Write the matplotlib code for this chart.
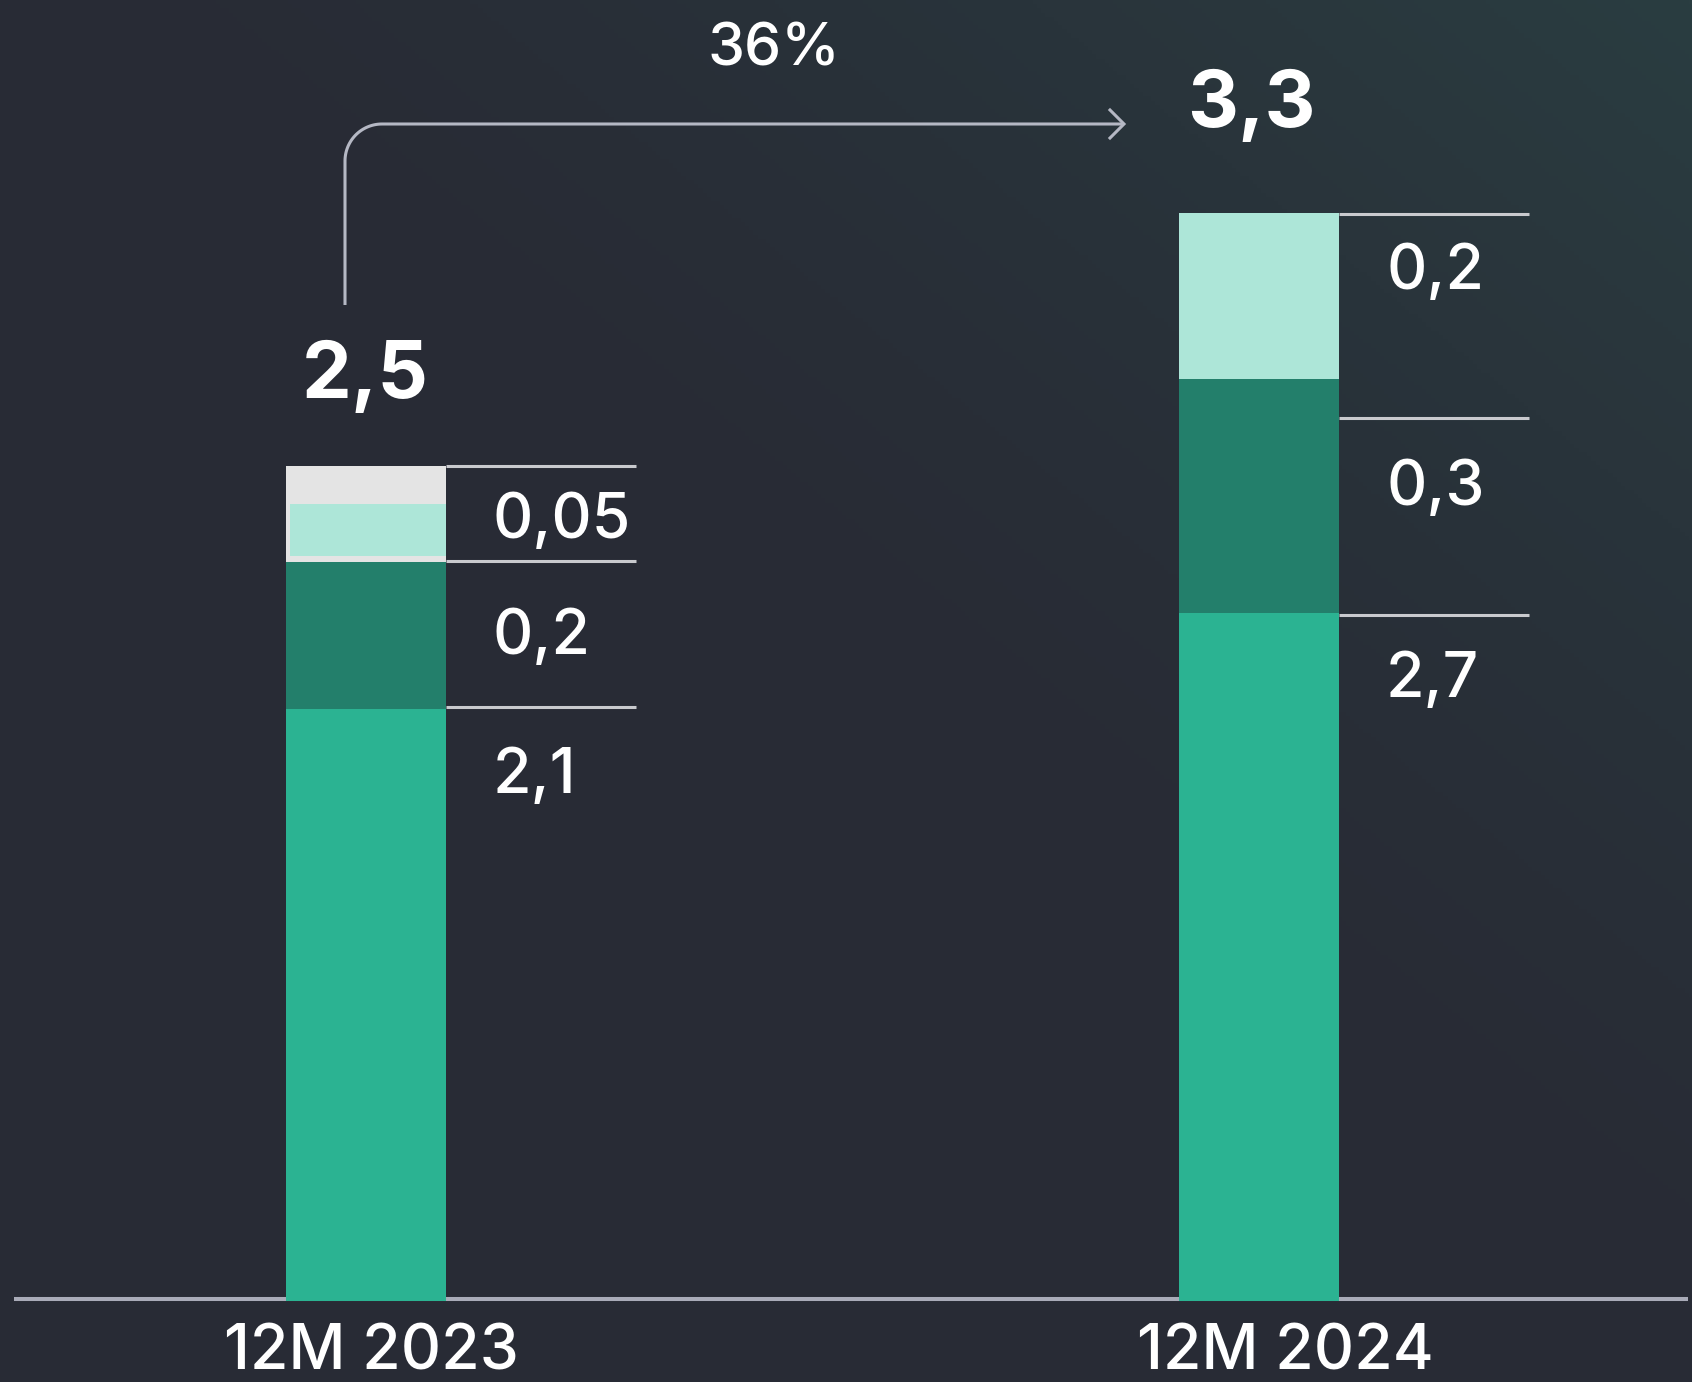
import numpy as np
import matplotlib
matplotlib.use("Agg")
import matplotlib.pyplot as plt

plt.rcParams['font.family'] = ['Inter', 'DejaVu Sans']

# ---------------- data ----------------
categories = ['12M 2023', '12M 2024']
# drawn segment heights (chart units, as measured on the picture)
seg_base = [590, 686]
seg_mid = [147, 234]
seg_top = [96, 166]          # 2023: grey frame, 2024: mint block
inset_mint = [52, 0]         # mint block inside the 2023 grey frame
inset_offset = [6, 0]
seg_labels = [['2,1', '0,2', '0,05'], ['2,7', '0,3', '0,2']]
label_heights = [[506, 645, 761], [602, 794, 1010]]
dividers = [[592, 738, 833], [684, 881, 1085]]
totals = ['2,5', '3,3']
total_heights = [901, 1172]
growth = '36%'

# ---------------- style ----------------
W, H = 1692, 1382
C_BASE = '#2bb392'
C_MID = '#237f6b'
C_MINT = '#ade6d8'
C_GREY = '#e4e4e4'
C_LINE = '#c9cace'
C_AXIS = '#a9abb8'
C_ARROW = '#b5b8c4'

fig = plt.figure(figsize=(W / 100, H / 100), dpi=100)

# background gradient
bg = fig.add_axes([0, 0, 1, 1])
bg.set_axis_off()
xx, yy = np.meshgrid(np.linspace(0, 1, 400), np.linspace(1, 0, 330))
w = np.clip((xx + yy) - 1.0, 0, 1) / 1.0
w = w ** 1.4
c0 = np.array([40, 43, 53]) / 255
c1 = np.array([42, 61, 65]) / 255
img = c0[None, None, :] * (1 - w[..., None]) + c1[None, None, :] * w[..., None]
bg.imshow(img, extent=[0, 1, 0, 1], aspect='auto', origin='upper')
bg.set_xlim(0, 1)
bg.set_ylim(0, 1)

# main axes: x in category units, y in chart units (1 unit = 1 px)
ax = fig.add_axes([0, 0, 1, 1])
ax.set_axis_off()
ax.patch.set_alpha(0)
pxu = 893.5                 # px per category step
x0 = 365.5                  # px of first category
ax.set_xlim(-x0 / pxu, (W - x0) / pxu)
ax.set_ylim(-83, H - 83)

x = np.arange(len(categories))
bw = 160 / pxu

# axis baseline
ax.plot([(14 - x0) / pxu, (1688 - x0) / pxu], [0, 0], color=C_AXIS, lw=2.9,
        solid_capstyle='butt', zorder=1)

base = np.array(seg_base)
mid = np.array(seg_mid)
top = np.array(seg_top)
ax.bar(x, base + 2, bottom=-2, width=bw, color=C_BASE, zorder=2, linewidth=0)
ax.bar(x, mid, bottom=base, width=bw, color=C_MID, zorder=2, linewidth=0)
top_colors = [C_GREY, C_MINT]
ax.bar(x, top, bottom=base + mid, width=bw, color=top_colors, zorder=2, linewidth=0)
# inset mint for 2023
inset_px = 4 / pxu
for i in range(len(x)):
    if inset_mint[i] > 0:
        ax.bar(x[i] + inset_px / 2, inset_mint[i], bottom=base[i] + mid[i] + inset_offset[i],
               width=bw - inset_px, color=C_MINT, zorder=3, linewidth=0)

# divider lines and segment labels
line_len = 190 / pxu
for i in range(len(x)):
    xr = x[i] + bw / 2
    ax.hlines(dividers[i], xr, xr + line_len, color=C_LINE, lw=2.2, zorder=2)
    for lab, yh in zip(seg_labels[i], label_heights[i]):
        ax.text(xr + 47 / pxu, yh, lab, color='white', fontsize=45,
                fontweight=500, ha='left', va='baseline', zorder=4)

# totals
for i in range(len(x)):
    ax.text(x[i] - (0 if i == 0 else 8 / pxu), total_heights[i], totals[i], color='white',
            fontsize=57, fontweight='bold', ha='center', va='baseline', zorder=4)

# category labels
cat_off = [6, 26]
for i in range(len(x)):
    ax.text(x[i] + cat_off[i] / pxu, -71, categories[i], color='white', fontsize=45,
            fontweight=500, ha='center', va='baseline', zorder=4)

# growth arrow
ax_x = (345 - x0) / pxu
tip_x = (1124 - x0) / pxu
y_bot, y_top = 994, 1175
r = 37
theta = np.linspace(np.pi, np.pi / 2, 30)
cx, cy = ax_x + r / pxu, y_top - r
arc_x = cx + (r / pxu) * np.cos(theta)
arc_y = cy + r * np.sin(theta)
px_ = np.concatenate([[ax_x], arc_x, [tip_x]])
py_ = np.concatenate([[y_bot], arc_y, [y_top]])
ax.plot(px_, py_, color=C_ARROW, lw=2.2, solid_capstyle='butt', zorder=3)
hs = 14
ax.plot([tip_x - hs / pxu, tip_x, tip_x - hs / pxu], [y_top + hs, y_top, y_top - hs],
        color=C_ARROW, lw=2.2, solid_joinstyle='miter', zorder=3)
ax.text((774 - x0) / pxu, H - 83 - 65, growth, color='white', fontsize=42.5,
        fontweight=500, ha='center', va='baseline', zorder=4)

fig.savefig('out.png', dpi=100)
